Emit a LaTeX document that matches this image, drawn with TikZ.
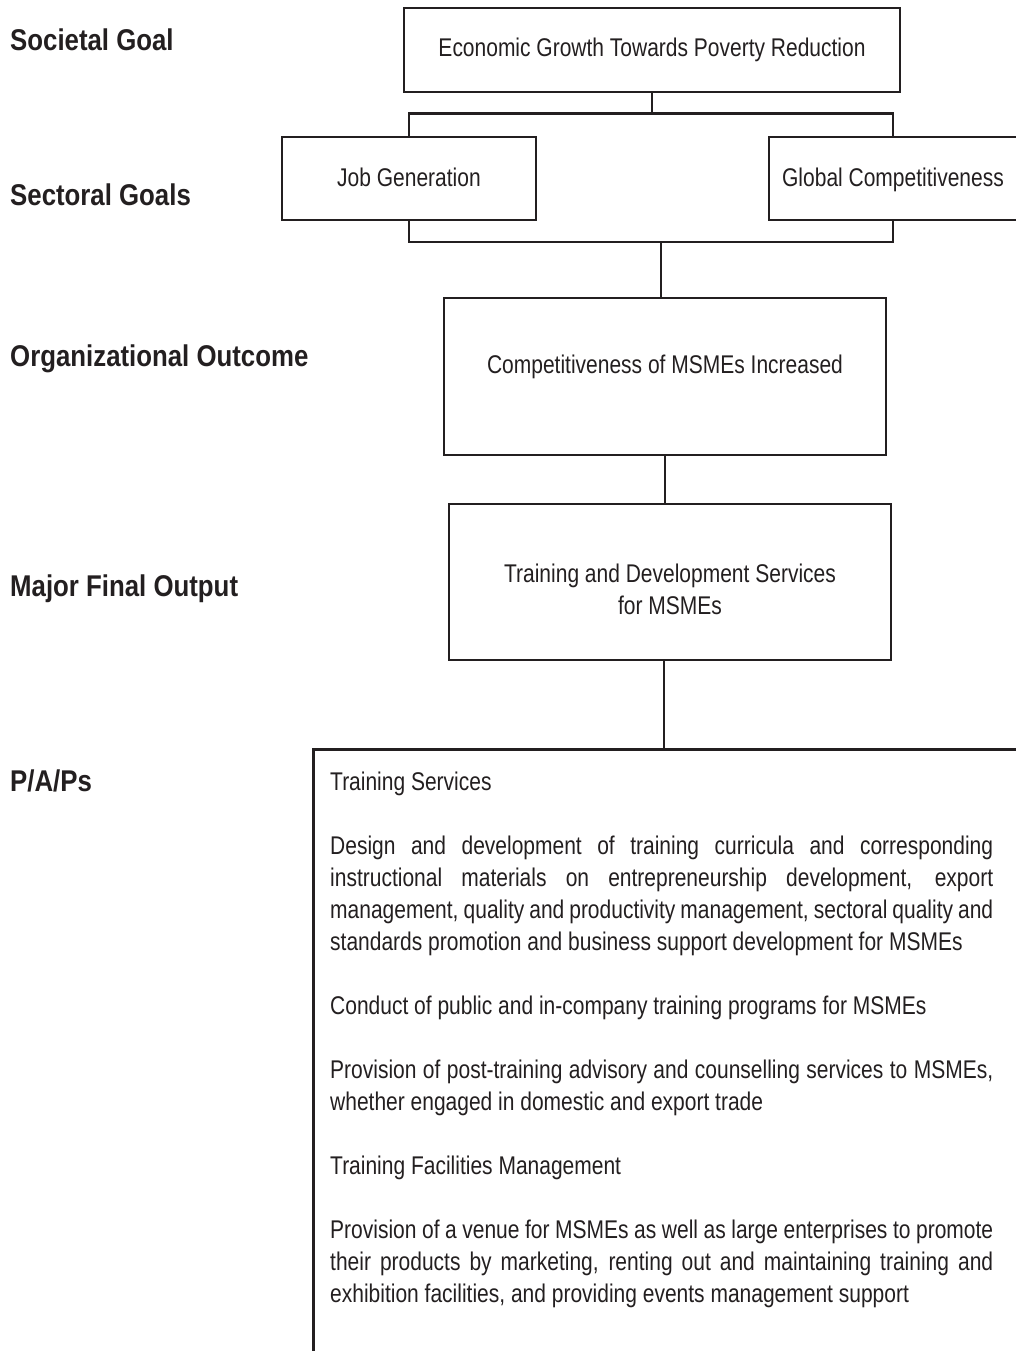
\documentclass[tikz,border=0pt]{standalone}
\usepackage{fontspec}
\setmainfont{Liberation Sans}
\newfontfamily\narrow{Liberation Sans}[FakeStretch=0.82]
\newfontfamily\heading{Liberation Sans}[FakeStretch=0.86]
\definecolor{ink}{HTML}{231F20}
\usetikzlibrary{calc}

\begin{document}
\begin{tikzpicture}[x=1pt, y=-1pt,
	box/.style={draw=ink, line width=2.7pt, inner sep=0pt, align=center, text=ink,
		font=\narrow\fontsize{25.6}{32}\selectfont},
	tier/.style={anchor=base west, inner sep=0pt, text=ink,
		font=\heading\bfseries\fontsize{30}{36}\selectfont},
	link/.style={draw=ink, line width=2.7pt}]
	\useasboundingbox (0,0) rectangle (1015,1351);
	% level names
	\node[tier] (societal) at (10,51) {Societal Goal};
	\node[tier] (sectoral) at (10,205) {Sectoral Goals};
	\node[tier] (outcome) at (10,366) {Organizational Outcome};
	\node[tier] (output) at (10,596) {Major Final Output};
	\node[tier] (paps) at (10,791) {P/A/Ps};
	% boxes
	\node[box, minimum width=496pt, minimum height=84pt] (growth) at (652,50) {Economic Growth Towards Poverty Reduction};
	\node[box, minimum width=254pt, minimum height=83pt, text depth=2pt] (jobs) at (409,178.5) {Job Generation};
	\node[box, minimum width=248pt, minimum height=83pt, text depth=2pt] (global) at (893,178.5) {Global Competitiveness};
	\node[box, minimum width=442pt, minimum height=157pt, text depth=24pt] (org) at (665,376.5) {Competitiveness of MSMEs Increased};
	\node[box, minimum width=442pt, minimum height=156pt] (mfo) at (670,582) {\rule{0pt}{32.7pt}Training and Development Services\\for MSMEs};
	\node[draw=ink, line width=2.7pt, inner sep=0pt, anchor=north west, minimum width=720pt, minimum height=640pt] (pap) at (312,748) {};
	% connectors
	\draw[link] (growth.south) -- ++(0,20) coordinate (split);
	\draw[link] (jobs.north) |- (split) -| (global.north);
	\coordinate (join) at (661,242);
	\draw[link] (jobs.south) |- (join) -| (global.south);
	\draw[link] (join) -- (join |- org.north);
	\draw[link] (org.south) -- (org.south |- mfo.north);
	\draw[link] ([xshift=-6pt]mfo.south) -- ([xshift=-6pt]mfo.south |- pap.north);
	% programs, activities and projects
	\node[anchor=north west, inner sep=0pt, text width=663pt, align=justify, text=ink,
		font=\narrow\fontsize{25.6}{32}\selectfont] (paptext) at (330,772) {%
		\setlength{\parskip}{32pt}\tolerance=10000\hyphenpenalty=10000\exhyphenpenalty=10000
		Training Services\par
		Design and development of training curricula and corresponding\linebreak instructional materials on entrepreneurship development, export\linebreak management, quality and productivity management, sectoral quality and\linebreak standards promotion and business support development for MSMEs\par
		Conduct of public and in-company training programs for MSMEs\par
		Provision of post-training advisory and counselling services to MSMEs,\linebreak whether engaged in domestic and export trade\par
		Training Facilities Management\par
		Provision of a venue for MSMEs as well as large enterprises to promote\linebreak their products by marketing, renting out and maintaining training and\linebreak exhibition facilities, and providing events management support};
\end{tikzpicture}
\end{document}
